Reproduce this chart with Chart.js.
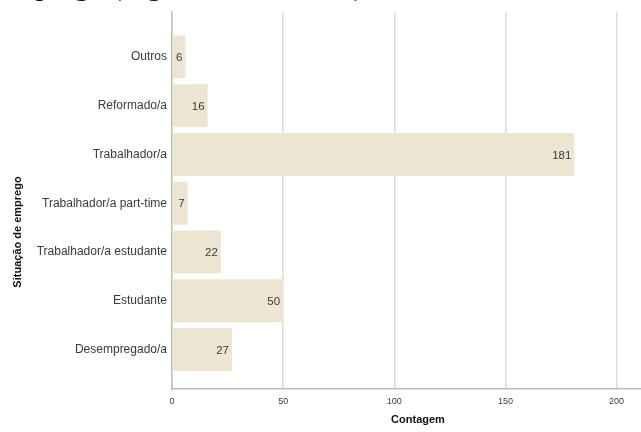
<!DOCTYPE html>
<html>
<head>
<meta charset="utf-8">
<script src="https://cdn.jsdelivr.net/npm/chart.js@4.4.1/dist/chart.umd.min.js"></script>
<style>
  html, body { margin: 0; padding: 0; background: #fff; overflow: hidden; }
  #wrap { position: relative; width: 641px; height: 432px; }
  #header {
    position: absolute; left: -1px; top: -30px; white-space: nowrap;
    font-family: "Liberation Serif", "DejaVu Serif", serif; font-size: 30px; line-height: 30px; color: #111;
  }
  canvas { position: absolute; left: 0; top: 0; }
</style>
</head>
<body>
<div id="wrap">
  <canvas id="chart" width="641" height="432"></canvas>
  <div id="header">emprego (Figura 9, Tabela 10)</div>
</div>
<script>
// categories top to bottom, as in the picture
const categories = ['Outros', 'Reformado/a', 'Trabalhador/a', 'Trabalhador/a part-time',
                    'Trabalhador/a estudante', 'Estudante', 'Desempregado/a'];
const counts = [6, 16, 181, 7, 22, 50, 27];
const xTicks = [0, 50, 100, 150, 200];

const xTitle = 'Contagem';
const yTitle = 'Situação de emprego';

const barColor = '#ebe5d2';
const textColor = '#3a3a3a';

// labels at the end of each bar, inside it
const barLabels = {
    id: 'barLabels',
    afterDatasetsDraw(chart) {
        const ctx = chart.ctx;
        const meta = chart.getDatasetMeta(0);
        ctx.save();
        ctx.font = '11.5px "Liberation Sans", Arial, sans-serif';
        ctx.fillStyle = textColor;
        ctx.textAlign = 'right';
        ctx.textBaseline = 'middle';
        meta.data.forEach((bar, i) => {
            ctx.fillText(String(counts[i]), bar.x - 3, bar.y + 1);
        });
        ctx.restore();
    }
};

// axis titles, placed like the SPSS output
const axisTitles = {
    id: 'axisTitles',
    afterDraw(chart) {
        const ctx = chart.ctx;
        ctx.save();
        ctx.font = 'bold 11px "Liberation Sans", Arial, sans-serif';
        ctx.fillStyle = '#111';
        ctx.textAlign = 'center';
        ctx.textBaseline = 'middle';
        ctx.fillText(xTitle, 418, 420);
        ctx.translate(18, 232);
        ctx.rotate(-Math.PI / 2);
        ctx.fillText(yTitle, 0, 0);
        ctx.restore();
    }
};

new Chart(document.getElementById('chart'), {
    type: 'bar',
    data: {
        datasets: [{
            data: counts.map((v, i) => ({ x: v, y: i })),
            backgroundColor: barColor,
            borderWidth: 0,
            barPercentage: 0.88,
            categoryPercentage: 1
        }]
    },
    options: {
        indexAxis: 'y',
        responsive: false,
        animation: false,
        layout: { padding: { top: 10, left: 0, right: 0, bottom: 0 } },
        plugins: { legend: { display: false }, tooltip: { enabled: false } },
        scales: {
            x: {
                type: 'linear',
                min: 0,
                max: 211,
                afterBuildTicks: scale => { scale.ticks = xTicks.map(v => ({ value: v })); },
                afterFit: scale => { scale.height = 43; },
                grid: { color: '#dcdcdc', lineWidth: 1.5, drawTicks: false },
                border: { display: true, color: '#bdbdbd', width: 1.5 },
                ticks: {
                    padding: 7,
                    color: textColor,
                    font: { size: 9, family: '"Liberation Sans", Arial, sans-serif' }
                }
            },
            y: {
                type: 'linear',
                reverse: true,
                offset: false,
                min: -0.92,
                max: 6.81,
                afterBuildTicks: scale => { scale.ticks = categories.map((c, i) => ({ value: i })); },
                afterFit: scale => { scale.width = 172; },
                grid: { display: false, drawTicks: false },
                border: { display: true, color: '#bdbdbd', width: 1.5 },
                ticks: {
                    padding: 5,
                    color: textColor,
                    font: { size: 12, family: '"Liberation Sans", Arial, sans-serif' },
                    callback: v => categories[v]
                }
            }
        }
    },
    plugins: [barLabels, axisTitles]
});
</script>
</body>
</html>
